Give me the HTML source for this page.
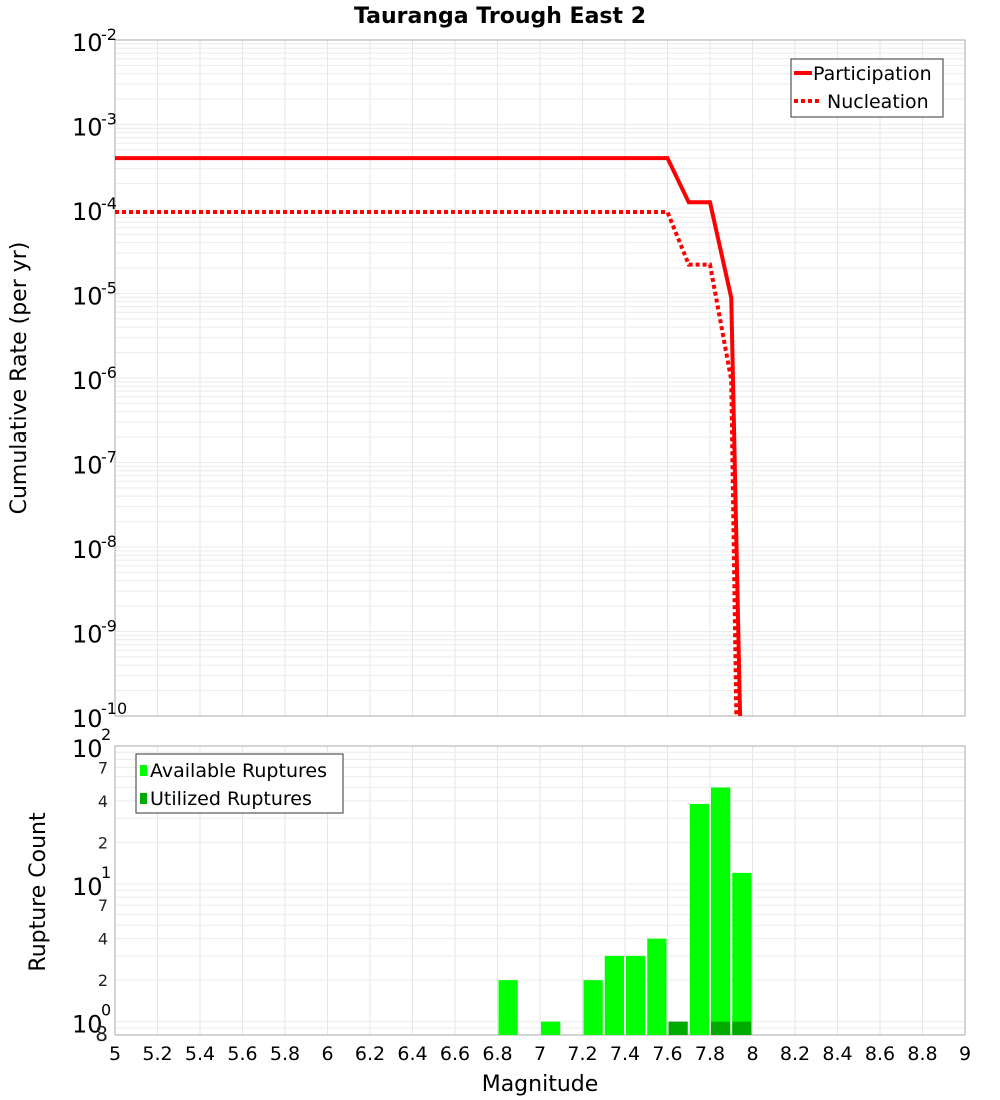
<!DOCTYPE html>
<html><head><meta charset="utf-8"><style>
body{margin:0;background:#fff;}
svg{display:block;font-family:"DejaVu Sans","Liberation Sans",sans-serif;}
</style></head><body>
<svg id="c" width="1000" height="1100"></svg>
<script>
const mags=[5.0,7.6,7.7,7.8,7.9,7.95];
const partVals=[4.0e-4,4.0e-4,1.2e-4,1.2e-4,8.9e-6,1e-11];
const nuclMags=[5.0,7.6,7.7,7.8,7.9,7.93];
const nuclVals=[9.2e-5,9.2e-5,2.2e-5,2.2e-5,9.5e-7,1e-11];
const binStarts=[6.8,7.0,7.2,7.3,7.4,7.5,7.7,7.8,7.9];
const availCounts=[2,1,2,3,3,4,38,50,12];
const utilStarts=[7.6,7.8,7.9];
const utilCounts=[1,1,1];
const xTicks=[5,5.2,5.4,5.6,5.8,6,6.2,6.4,6.6,6.8,7,7.2,7.4,7.6,7.8,8,8.2,8.4,8.6,8.8,9];
const topExps=[-2,-3,-4,-5,-6,-7,-8,-9,-10];

const NS="http://www.w3.org/2000/svg";
const svg=document.getElementById('c');
function mk(t,a,p){const e=document.createElementNS(NS,t);for(const k in a)e.setAttribute(k,a[k]);(p||svg).appendChild(e);return e;}
const L=115,R=965,T1=40,B1=716,T2=746,B2=1035;
const xs=m=>L+(m-5)/4*(R-L);
const y1=v=>T1+(-2-Math.log10(v))*(B1-T1)/8;
const lo2=Math.log10(0.8),hi2=2;
const y2=v=>B2-(Math.log10(v)-lo2)/(hi2-lo2)*(B2-T2);

// title
let t=mk('text',{x:500,y:23,'text-anchor':'middle','font-size':22,'font-weight':'bold'});t.textContent='Tauranga Trough East 2';


// grids
const g=mk('g',{});

xTicks.forEach(m=>{mk('line',{x1:xs(m),x2:xs(m),y1:T1,y2:B1,stroke:'#e6e6e6'},g);mk('line',{x1:xs(m),x2:xs(m),y1:T2,y2:B2,stroke:'#e6e6e6'},g);});
for(let e=-10;e<-2;e++)for(let k=1;k<10;k++){const y=y1(k*Math.pow(10,e));mk('line',{x1:L,x2:R,y1:y,y2:y,stroke:'#ebebeb'},g);}
for(let e=-1;e<2;e++)for(let k=1;k<10;k++){const v=k*Math.pow(10,e);if(v<0.8)continue;const y=y2(v);mk('line',{x1:L,x2:R,y1:y,y2:y,stroke:'#ebebeb'},g);}

// frames
let f1=mk('rect',{x:L,y:T1,width:R-L,height:B1-T1,fill:'none',stroke:'#aaa'});

let f2=mk('rect',{x:L,y:T2,width:R-L,height:B2-T2,fill:'none',stroke:'#aaa'});


// top y ticks
topExps.forEach(e=>{const y=y1(Math.pow(10,e));
 const tx=mk('text',{x:72,y:y+11,'font-size':24});tx.textContent='10';
 
 const s=mk('text',{x:101,y:y+(e==-10?-2:0),'font-size':16});s.textContent=String(e);
 });
// bottom y ticks
[[100,'2'],[10,'1'],[1,'0']].forEach(([v,e])=>{const y=y2(v);
 const tx=mk('text',{x:72,y:y+11,'font-size':24});tx.textContent='10';
 
 const s=mk('text',{x:101,y:y-6,'font-size':16});s.textContent=e;
 });
[[70,'7'],[40,'4'],[20,'2'],[7,'7'],[4,'4'],[2,'2'],[0.8,'8']].forEach(([v,l])=>{const y=y2(v);
 const tx=mk('text',{x:108,y:y+6,'font-size':v==0.8?20:16,'text-anchor':'end',fill:'#222'});tx.textContent=l;
 });

// x ticks
xTicks.forEach(m=>{const tx=mk('text',{x:xs(m),y:1060,'font-size':19,'text-anchor':'middle'});tx.textContent=String(m);
 });
t=mk('text',{x:540,y:1091,'font-size':22,'text-anchor':'middle'});t.textContent='Magnitude';

t=mk('text',{x:0,y:0,'font-size':22,'text-anchor':'middle',transform:'translate(26,378) rotate(-90)'});t.textContent='Cumulative Rate (per yr)';

t=mk('text',{x:0,y:0,'font-size':22,'text-anchor':'middle',transform:'translate(45,892) rotate(-90)'});t.textContent='Rupture Count';


// bars
availCounts.forEach((c,i)=>{const x0=xs(binStarts[i])+1,x1=xs(binStarts[i]+0.1)-1;
 const r=mk('rect',{x:x0,y:y2(c),width:x1-x0,height:B2-y2(c),fill:'#00ff00'});
 });
utilCounts.forEach((c,i)=>{const x0=xs(utilStarts[i])+1,x1=xs(utilStarts[i]+0.1)-1;
 const r=mk('rect',{x:x0,y:y2(c),width:x1-x0,height:B2-y2(c),fill:'#00aa00'});
 });

// lines
const clip=mk('clipPath',{id:'cp'});mk('rect',{x:L,y:T1,width:R-L,height:B1-T1},clip);
let p=mk('polyline',{points:mags.map((m,i)=>xs(m)+','+y1(partVals[i])).join(' '),fill:'none',stroke:'#ff0000','stroke-width':4,'clip-path':'url(#cp)'});

p=mk('polyline',{points:nuclMags.map((m,i)=>xs(m)+','+y1(nuclVals[i])).join(' '),fill:'none',stroke:'#ff0000','stroke-width':4,'stroke-dasharray':'4,3','clip-path':'url(#cp)'});


// legends
const lg=mk('g',{});
mk('rect',{x:791,y:59,width:152,height:58,fill:'#fff',stroke:'#333'},lg);
mk('line',{x1:794,x2:812,y1:73,y2:73,stroke:'#f00','stroke-width':4},lg);
mk('line',{x1:794,x2:822,y1:101,y2:101,stroke:'#f00','stroke-width':4,'stroke-dasharray':'4,3'},lg);
t=mk('text',{x:813,y:80,'font-size':19},lg);t.textContent='Participation';
t=mk('text',{x:827,y:108,'font-size':19},lg);t.textContent='Nucleation';
const lg2=mk('g',{});
mk('rect',{x:136,y:754,width:207,height:59,fill:'#fff',stroke:'#333'},lg2);
mk('rect',{x:140,y:765,width:7,height:11,fill:'#00ff00'},lg2);
mk('rect',{x:140,y:793,width:7,height:11,fill:'#00aa00'},lg2);
t=mk('text',{x:150,y:777,'font-size':19},lg2);t.textContent='Available Ruptures';
t=mk('text',{x:150,y:805,'font-size':19},lg2);t.textContent='Utilized Ruptures';
</script>
</body></html>
